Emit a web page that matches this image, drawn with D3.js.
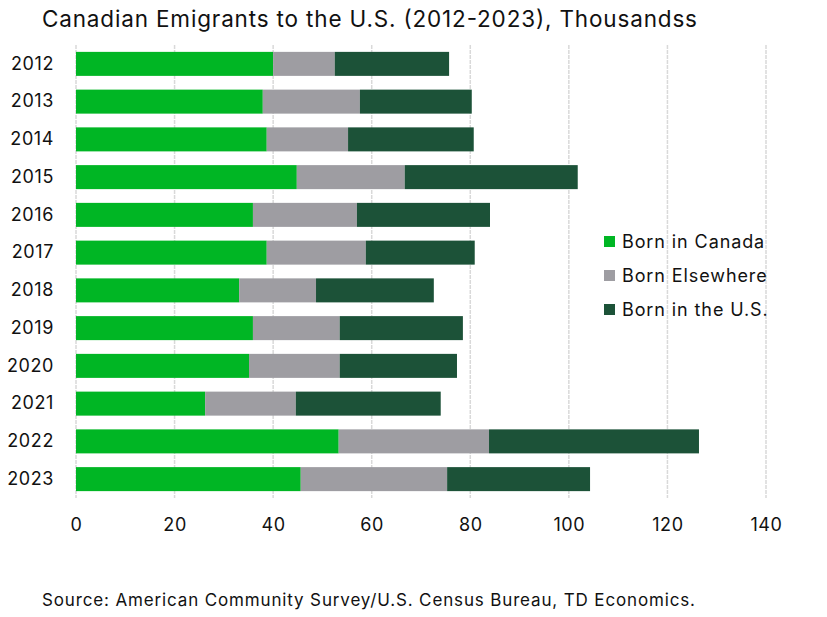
<!DOCTYPE html>
<html>
<head>
<meta charset="utf-8">
<script src="https://cdn.jsdelivr.net/npm/d3@7"></script>
<style>
  html, body { margin: 0; padding: 0; background: #fff; }
  svg { display: block; font-family: Inter, "Noto Sans", sans-serif; }
</style>
</head>
<body>
<svg id="chart" width="827" height="617"></svg>
<script>
const years = ["2012","2013","2014","2015","2016","2017","2018","2019","2020","2021","2022","2023"];
const bornCanada    = [40.0, 37.9, 38.7, 44.8, 35.9, 38.7, 33.1, 35.9, 35.1, 26.2, 53.3, 45.6];
const bornElsewhere = [12.5, 19.7, 16.5, 21.9, 21.1, 20.1, 15.6, 17.6, 18.4, 18.4, 30.5, 29.7];
const bornUS        = [23.2, 22.7, 25.5, 35.1, 27.0, 22.1, 23.9, 25.0, 23.8, 29.4, 42.6, 29.0];
const seriesNames = ["Born in Canada", "Born Elsewhere", "Born in the U.S."];
const seriesColors = ["#00b624", "#9e9da2", "#1c5238"];
const xTicks = [0, 20, 40, 60, 80, 100, 120, 140];

const svg = d3.select("#chart");
const x = d3.scaleLinear().domain([0, 140]).range([76, 766]);
const y = d3.scaleBand().domain(years).range([45, 498]).paddingInner(0.364).paddingOuter(0.182);

const rows = years.map((yr, i) => ({year: yr, "Born in Canada": bornCanada[i], "Born Elsewhere": bornElsewhere[i], "Born in the U.S.": bornUS[i]}));
const stacked = d3.stack().keys(seriesNames)(rows);

// gridlines
svg.append("g").selectAll("line").data(xTicks).join("line")
  .attr("x1", d => x(d)).attr("x2", d => x(d))
  .attr("y1", 45).attr("y2", 498)
  .attr("stroke", "#d9d9d9").attr("stroke-width", 1.5)
  .attr("stroke-dasharray", "4,1");

// bars
svg.append("g").selectAll("g").data(stacked).join("g")
  .attr("fill", (d, i) => seriesColors[i])
  .selectAll("rect").data(d => d).join("rect")
  .attr("x", d => x(d[0]))
  .attr("width", d => x(d[1]) - x(d[0]))
  .attr("y", d => y(d.data.year))
  .attr("height", y.bandwidth());

// y axis labels
const yAxis = d3.axisLeft(y).tickSize(0).tickPadding(0);
const gy = svg.append("g").attr("transform", "translate(54,0)").call(yAxis);
gy.select(".domain").remove();
gy.selectAll("text").attr("font-size", 18).attr("fill", "#111")
  .attr("font-family", "Inter, sans-serif").attr("letter-spacing", 0.6);

// x axis labels
const xAxis = d3.axisBottom(x).tickValues(xTicks).tickSize(0).tickPadding(0);
const gx = svg.append("g").attr("transform", "translate(0,518)").call(xAxis);
gx.select(".domain").remove();
gx.selectAll("text").attr("font-size", 18).attr("fill", "#111")
  .attr("font-family", "Inter, sans-serif").attr("letter-spacing", 0.6);

// title
svg.append("text").attr("x", 42).attr("y", 27)
  .attr("font-size", 22.5).attr("fill", "#111")
  .attr("textLength", 655).attr("lengthAdjust", "spacing")
  .text("Canadian Emigrants to the U.S. (2012-2023), Thousandss");

// source
svg.append("text").attr("x", 42).attr("y", 606)
  .attr("font-size", 17).attr("fill", "#111")
  .attr("textLength", 653).attr("lengthAdjust", "spacing")
  .text("Source: American Community Survey/U.S. Census Bureau, TD Economics.");

// legend
const lg = svg.append("g").selectAll("g").data(seriesNames).join("g")
  .attr("transform", (d, i) => `translate(604,${242 + i * 34})`);
lg.append("rect").attr("x", 0).attr("y", -6).attr("width", 11).attr("height", 11)
  .attr("fill", (d, i) => seriesColors[i]);
lg.append("text").attr("x", 18).attr("y", 0).attr("dy", "0.35em")
  .attr("font-size", 18).attr("fill", "#111").attr("letter-spacing", 0.9).text(d => d);
</script>
</body>
</html>
